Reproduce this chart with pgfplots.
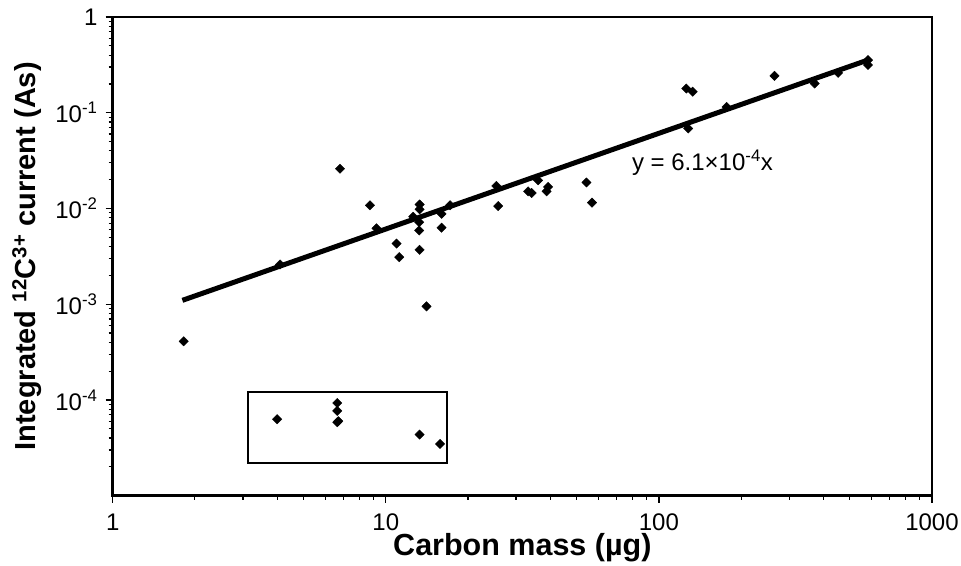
\documentclass[border=0pt]{standalone}
\usepackage{pgfplots}
\pgfplotsset{compat=1.18}
\usepackage{fontspec}
\setmainfont{Liberation Sans}
\begin{document}
\begin{tikzpicture}
\begin{axis}[
  xmode=log, ymode=log,
  scale only axis, width=819.3pt, height=478.7pt,
  xmin=1, xmax=1000, ymin=1e-5, ymax=1,
  axis line style={line width=2.5pt},
  xtick={1,10,100,1000}, xticklabels={1,10,100,1000},
  ytick={1e-4,1e-3,1e-2,1e-1,1},
  yticklabels={10\textsuperscript{-4},10\textsuperscript{-3},10\textsuperscript{-2},10\textsuperscript{-1},1},
  minor xtick={2,3,4,5,6,7,8,9,20,30,40,50,60,70,80,90,200,300,400,500,600,700,800,900},
  minor ytick={2e-5,3e-5,4e-5,5e-5,6e-5,7e-5,8e-5,9e-5,2e-4,3e-4,4e-4,5e-4,6e-4,7e-4,8e-4,9e-4,2e-3,3e-3,4e-3,5e-3,6e-3,7e-3,8e-3,9e-3,0.02,0.03,0.04,0.05,0.06,0.07,0.08,0.09,0.2,0.3,0.4,0.5,0.6,0.7,0.8,0.9},
  tick align=outside, xtick pos=bottom, ytick pos=left,
  major tick length=7pt, minor tick length=4pt,
  tick style={black, line width=1.2pt},
  ticklabel style={font=\fontsize{24}{28}\selectfont},
  xticklabel style={inner sep=0pt, anchor=north, yshift=-11pt},
  yticklabel style={inner sep=0pt, anchor=east, xshift=-8pt},
  xlabel={Carbon mass (µg)},
  ylabel={Integrated \textsuperscript{12}C\textsuperscript{3+} current (As)},
  xlabel style={font=\fontsize{30.5}{34}\selectfont\bfseries, at={(axis description cs:0.5,-0.1239)}, anchor=base, inner sep=0pt},
  ylabel style={font=\fontsize{29}{33}\selectfont\bfseries, at={(axis description cs:-0.1046,0.5)}, anchor=center, inner sep=0pt},
  clip=false,
]
\addplot[black, line width=5pt] coordinates {(1.8,0.001098) (590,0.3599)};
\addplot[only marks, mark=square*, mark size=3.3pt, mark options={rotate=45, fill=black, draw=black}] coordinates {
(1.82,4.1e-4)
(4.1,2.6e-3)
(6.8,0.026)
(8.75,0.0108)
(9.25,0.0062)
(10.95,0.0043)
(11.2,0.0031)
(12.6,0.0082)
(13.3,0.0110)
(13.3,0.0098)
(13.25,0.0072)
(13.25,0.0059)
(13.3,0.0037)
(14.1,0.00095)
(16.0,0.0088)
(16.0,0.0063)
(17.2,0.0108)
(25.4,0.0172)
(25.8,0.0106)
(33.2,0.0151)
(34.2,0.0145)
(36.1,0.0197)
(38.8,0.0151)
(39.3,0.0168)
(54.3,0.0187)
(56.9,0.0115)
(126,0.179)
(133,0.166)
(128,0.0685)
(177,0.115)
(265,0.243)
(372,0.202)
(453,0.261)
(583,0.315)
(583,0.355)
(4.0,6.3e-5)
(6.64,9.3e-5)
(6.64,7.7e-5)
(6.64,5.85e-5)
(6.7,6.0e-5)
(13.3,4.35e-5)
(15.8,3.47e-5)
};
\addplot[black, line width=1.8pt] coordinates {(3.12,1.2e-4) (16.8,1.2e-4) (16.8,2.18e-5) (3.12,2.18e-5) (3.12,1.2e-4)} -- cycle;
\node[anchor=base west, inner sep=0pt, font=\fontsize{24}{28}\selectfont] at (axis cs:79.6,0.0251) {y = 6.1×10\textsuperscript{-4}x};
\end{axis}
\pgfresetboundingbox
\path[use as bounding box] (-112.7pt,-69.3pt) rectangle (848.3pt,495.7pt);
\end{tikzpicture}
\end{document}
